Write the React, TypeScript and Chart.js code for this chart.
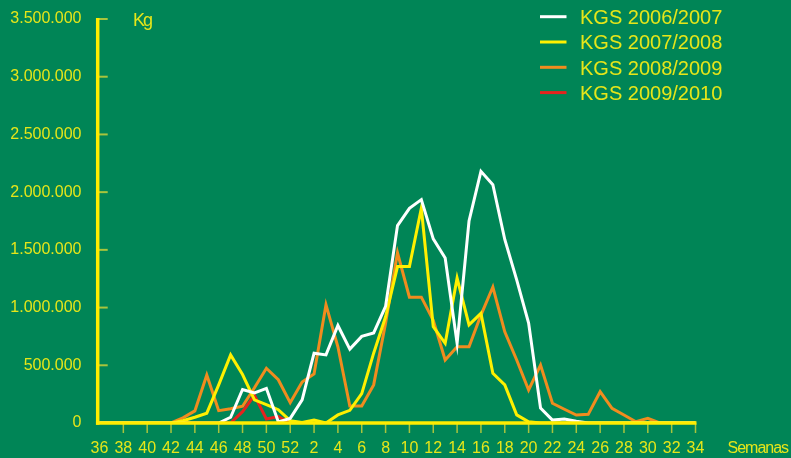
import React, { useEffect, useRef } from 'react';
import { Chart, registerables } from 'chart.js';

Chart.register(...registerables);

const weeks = [
  '36', '37', '38', '39', '40', '41', '42', '43', '44', '45', '46', '47', '48', '49', '50', '51', '52',
  '1', '2', '3', '4', '5', '6', '7', '8', '9', '10', '11', '12', '13', '14', '15', '16', '17', '18', '19',
  '20', '21', '22', '23', '24', '25', '26', '27', '28', '29', '30', '31', '32', '33', '34',
];

const kgs0607 = [
  0, 0, 0, 0, 0, 0, 0, 0, 0, 0, 0, 50000, 290000, 260000, 300000, 10000, 40000,
  200000, 605000, 590000, 845000, 640000, 750000, 780000, 1010000, 1710000, 1860000, 1935000, 1595000, 1430000, 690000, 1750000, 2180000, 2065000, 1590000, 1240000,
  865000, 130000, 25000, 35000, 15000, 0, 0, 0, 0, 0, 0, 0, 0, 0, 0,
];

const kgs0708 = [
  0, 0, 0, 0, 0, 0, 0, 20000, 50000, 85000, 330000, 590000, 420000, 200000, 160000, 115000, 20000,
  5000, 26000, 0, 70000, 110000, 255000, 605000, 920000, 1355000, 1355000, 1860000, 835000, 690000, 1255000, 850000, 950000, 430000, 330000, 70000,
  10000, 0, 0, 0, 0, 0, 0, 0, 0, 0, 0, 0, 0, 0, 0,
];

const kgs0809 = [
  0, 0, 0, 0, 0, 0, 0, 45000, 105000, 415000, 107000, 123000, 145000, 305000, 474000, 375000, 176000,
  355000, 425000, 1025000, 660000, 147000, 147000, 330000, 865000, 1475000, 1090000, 1090000, 890000, 546000, 660000, 660000, 935000, 1178000, 790000, 546000,
  286000, 502000, 171000, 119000, 69000, 75000, 271000, 127000, 69000, 11000, 41000, 0, 0, 0, 0,
];

const kgs0910 = [
  0, 0, 0, 0, 0, 0, 0, 0, 0, 0, 0, 0, 98000, 240000, 35000, 55000, 0,
  null, null, null, null, null, null, null, null, null, null, null, null, null, null, null, null, null, null, null,
  null, null, null, null, null, null, null, null, null, null, null, null, null, null, null,
];

const seriesLabels = ['KGS 2006/2007', 'KGS 2007/2008', 'KGS 2008/2009', 'KGS 2009/2010'];
const seriesColors = ['#ffffff', '#fff000', '#f08c1e', '#e5231e'];

const yMax = 3500000;
const yStep = 500000;
const yUnit = 'Kg';
const xUnit = 'Semanas';

const BG = '#008556';
const TEXT = '#e6e619';
const AXIS = '#ffed00';
const TICK = '#a9c43c';
const FONT = '"Liberation Sans", Arial, Helvetica, sans-serif';

const fmt = (v: number) => String(v).replace(/\B(?=(\d{3})+(?!\d))/g, '.');

const decor = {
  id: 'decor',
  beforeDraw(chart: any) {
    const ctx = chart.ctx;
    ctx.save();
    ctx.fillStyle = BG;
    ctx.fillRect(0, 0, chart.width, chart.height);
    ctx.restore();
  },
  afterDatasetsDraw(chart: any) {
    const { ctx, chartArea, scales } = chart;
    const xs = scales.x;
    const ys = scales.y;
    const ax = chartArea.left - 1.8;
    const ay = ys.getPixelForValue(0);
    const top = ys.getPixelForValue(yMax);
    ctx.save();
    ctx.strokeStyle = TICK;
    ctx.lineWidth = 2;
    ys.ticks.forEach((t: any) => {
      if (t.value === 0) return;
      const py = ys.getPixelForValue(t.value);
      ctx.beginPath();
      ctx.moveTo(ax, py);
      ctx.lineTo(ax + 10, py);
      ctx.stroke();
    });
    ctx.lineWidth = 1.5;
    xs.ticks.forEach((_t: any, i: number) => {
      if (i % 2 !== 0 || i === 0) return;
      const px = xs.getPixelForTick(i);
      ctx.beginPath();
      ctx.moveTo(px, ay);
      ctx.lineTo(px, ay + 10);
      ctx.stroke();
    });
    ctx.strokeStyle = AXIS;
    ctx.lineWidth = 3.5;
    ctx.lineCap = 'butt';
    ctx.beginPath();
    ctx.moveTo(ax, top - 1);
    ctx.lineTo(ax, ay + 1.75);
    ctx.stroke();
    ctx.beginPath();
    ctx.moveTo(ax - 1.75, ay);
    ctx.lineTo(chartArea.right + 1, ay);
    ctx.stroke();
    ctx.restore();
  },
  afterDraw(chart: any) {
    const ctx = chart.ctx;
    ctx.save();
    chart.data.datasets.forEach((ds: any, i: number) => {
      const ly = 16.7 + i * 25.3;
      ctx.strokeStyle = ds.borderColor;
      ctx.lineWidth = 3;
      ctx.beginPath();
      ctx.moveTo(540, ly);
      ctx.lineTo(566.5, ly);
      ctx.stroke();
      ctx.fillStyle = TEXT;
      ctx.font = `20px ${FONT}`;
      ctx.textAlign = 'left';
      ctx.textBaseline = 'alphabetic';
      ctx.fillText(ds.label, 580, 24 + i * 25.3);
    });
    ctx.fillStyle = TEXT;
    ctx.textBaseline = 'alphabetic';
    ctx.textAlign = 'left';
    ctx.font = `18px ${FONT}`;
    try { (ctx as any).letterSpacing = '-2px'; } catch (e) {}
    ctx.fillText(yUnit, 133, 25.7);
    ctx.font = `16px ${FONT}`;
    try { (ctx as any).letterSpacing = '-1px'; } catch (e) {}
    ctx.fillText(xUnit, 727.5, 453.3);
    try { (ctx as any).letterSpacing = '0px'; } catch (e) {}
    ctx.restore();
  },
};

export default function App() {
  const ref = useRef<HTMLCanvasElement | null>(null);
  useEffect(() => {
    if (!ref.current) return;
    const series = [kgs0607, kgs0708, kgs0809, kgs0910];
    const chart = new Chart(ref.current, {
      type: 'line',
      data: {
        labels: weeks,
        datasets: series.map((d, i) => ({
          label: seriesLabels[i],
          data: d,
          borderColor: seriesColors[i],
          backgroundColor: seriesColors[i],
          borderWidth: 3,
          pointRadius: 0,
          pointHoverRadius: 0,
          tension: 0,
          fill: false,
          spanGaps: false,
        })),
      },
      options: {
        responsive: false,
        animation: false,
        layout: { padding: { top: 19, right: 95.5, bottom: 0, left: 0 } },
        plugins: {
          legend: { display: false },
          tooltip: { enabled: false },
          title: { display: false },
        },
        scales: {
          x: {
            type: 'category',
            offset: false,
            grid: { display: false, drawTicks: false },
            border: { display: false },
            ticks: {
              autoSkip: false,
              maxRotation: 0,
              minRotation: 0,
              padding: 16,
              color: TEXT,
              font: { family: FONT, size: 16 },
              callback: (_v: any, i: number) => (i % 2 === 0 ? weeks[i] : ''),
            },
            afterFit: (s: any) => { s.height = 35; s.paddingLeft = 0; s.paddingRight = 0; },
          },
          y: {
            min: 0,
            max: yMax,
            grid: { display: false, drawTicks: false },
            border: { display: false },
            ticks: {
              stepSize: yStep,
              padding: 18,
              color: TEXT,
              font: { family: FONT, size: 16 },
              callback: (v: any) => fmt(Number(v)),
            },
            afterFit: (s: any) => { s.width = 99.5; s.paddingTop = 0; s.paddingBottom = 0; },
          },
        },
      },
      plugins: [decor],
    } as any);
    return () => chart.destroy();
  }, []);
  return (
    <div style={{ position: 'fixed', left: 0, top: 0, width: 791, height: 458, background: BG }}>
      <canvas ref={ref} width={791} height={458} style={{ display: 'block' }} />
    </div>
  );
}
